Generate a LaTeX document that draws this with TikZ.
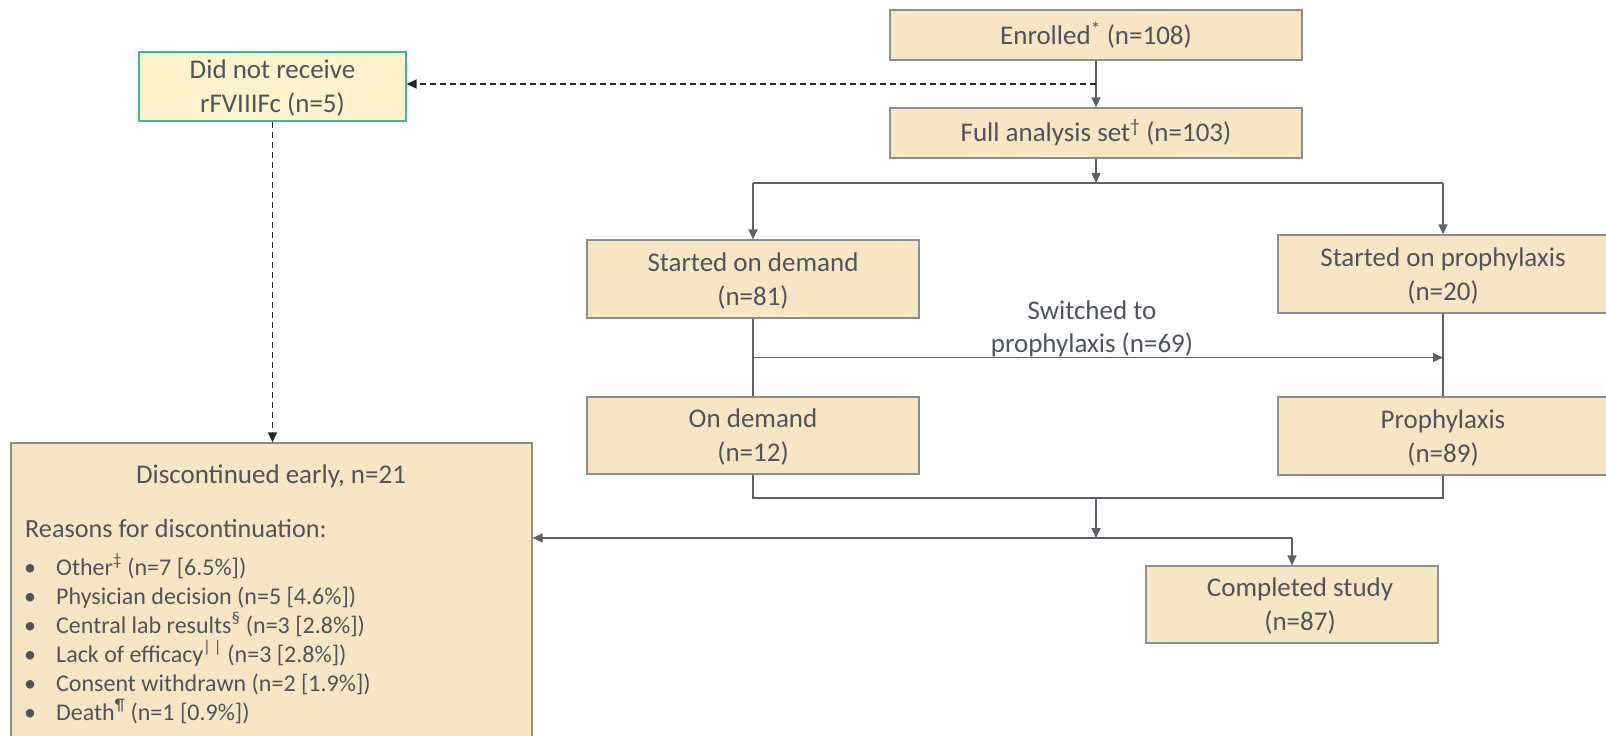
\documentclass[tikz,border=0pt]{standalone}
\usepackage{fontspec}
\setmainfont{Carlito}
\usetikzlibrary{arrows.meta}
\definecolor{boxfill}{HTML}{F6E6C4}
\definecolor{boxline}{HTML}{8E8E8E}
\definecolor{txt}{HTML}{4D545C}
\definecolor{ln}{HTML}{5B6168}
\definecolor{dnrfill}{HTML}{FFF2CC}
\definecolor{dnrline}{HTML}{3DB39B}
\tikzset{
  x=1pt, y=-1pt,
  fbox/.style={draw=boxline, fill=boxfill, line width=1.2pt, inner sep=0pt,
    align=center, text=txt, font=\fontsize{27}{34}\selectfont},
  twoline/.style={text depth=0pt},
  conn/.style={draw=ln, line width=1.3pt},
  arr/.style={conn, -{Triangle[length=10pt,width=9pt]}},
  darr/.style={draw=black!85, line width=1.4pt, dash pattern=on 6pt off 4pt,
    -{Triangle[length=10pt,width=9pt]}},
  lbl/.style={text=txt, inner sep=0pt},
}
\begin{document}
\begin{tikzpicture}
\useasboundingbox (0,0) rectangle (1606,736);
\clip (0,0) rectangle (1606,736);

% boxes
\node[fbox, minimum width=412pt, minimum height=50pt] (enr) at (1096,35) {Enrolled\textsuperscript{*} (n=108)};
\node[fbox, minimum width=412pt, minimum height=50pt] (fas) at (1096,133) {Full analysis set\textsuperscript{\dag} (n=103)};
\node[fbox, twoline, draw=dnrline, fill=dnrfill, minimum width=267pt, minimum height=69pt] (dnr) at (272.5,86.5) {Did not receive\\rFVIIIFc (n=5)};
\node[fbox, twoline, minimum width=332pt, minimum height=78pt] (sod) at (753,279) {Started on demand\\(n=81)};
\node[fbox, twoline, minimum width=330pt, minimum height=78pt] (sop) at (1443,274) {Started on prophylaxis\\(n=20)};
\node[fbox, twoline, minimum width=332pt, minimum height=77pt] (od) at (753,435.5) {On demand\\(n=12)};
\node[fbox, twoline, minimum width=330pt, minimum height=78pt] (pro) at (1443,436) {Prophylaxis\\(n=89)};
\node[fbox, twoline, minimum width=292pt, minimum height=77pt] (comp) at (1292,604.5) {\hspace*{16pt}Completed study\\\hspace*{16pt}(n=87)};
\node[fbox, minimum width=521pt, minimum height=320pt] (disc) at (271.5,603) {};

% text inside discontinued box
\node[lbl, anchor=base, font=\fontsize{27}{32}\selectfont] (dt) at (271,483) {Discontinued early, n=21};
\node[lbl, anchor=base west, font=\fontsize{26.2}{32}\selectfont] (dr) at (25,537) {Reasons for discontinuation:};
\begin{scope}[every node/.style={lbl, font=\fontsize{24}{28}\selectfont}]
\node[anchor=base west] (b1) at (24,575) {•};
\node[anchor=base west] (t1) at (56,575) {Other\textsuperscript{\ddag} (n=7 [6.5\%])};
\node[anchor=base west] (b2) at (24,604) {•};
\node[anchor=base west] (t2) at (56,604) {Physician decision (n=5 [4.6\%])};
\node[anchor=base west] (b3) at (24,633) {•};
\node[anchor=base west] (t3) at (56,633) {Central lab results\textsuperscript{\S} (n=3 [2.8\%])};
\node[anchor=base west] (b4) at (24,662) {•};
\node[anchor=base west] (t4) at (56,662) {Lack of efficacy\textsuperscript{|\,|} (n=3 [2.8\%])};
\node[anchor=base west] (b5) at (24,691) {•};
\node[anchor=base west] (t5) at (56,691) {Consent withdrawn (n=2 [1.9\%])};
\node[anchor=base west] (b6) at (24,720) {•};
\node[anchor=base west] (t6) at (56,720) {Death\textsuperscript{\P} (n=1 [0.9\%])};
\end{scope}

% switched label
\node[lbl, align=center, text depth=0pt, font=\fontsize{27}{33}\selectfont] (swl) at (1092,327) {Switched to\\prophylaxis (n=69)};

% coordinates
\coordinate (dsplit) at (1096,84);
\coordinate (split) at (1096,183);
\coordinate (sw) at (753,357.5);
\coordinate (merge) at (1096,498);
\coordinate (jn) at (1096,538);
\coordinate (jr) at (1292,538);

% connectors
\draw[arr] (enr.south) -- (fas.north);
\draw[darr] (dsplit) -- (dsplit -| dnr.east);
\draw[darr] (dnr.south) -- (disc.north -| dnr.south);
\draw[arr] (fas.south) -- (split);
\draw[conn] (split -| sod.north) -- (split -| sop.north);
\draw[arr] (split -| sod.north) -- (sod.north);
\draw[arr] (split -| sop.north) -- (sop.north);
\draw[conn] (sod.south) -- (od.north);
\draw[conn] (sop.south) -- (pro.north);
\draw[arr] (sw) -- (sw -| sop.south);
\draw[conn] (od.south) -- (od.south |- merge) -- (pro.south |- merge) -- (pro.south);
\draw[arr] (merge) -- (jn);
\draw[arr] (jr) -- (jr -| disc.east);
\draw[arr] (jr) -- (comp.north);
\end{tikzpicture}
\end{document}
